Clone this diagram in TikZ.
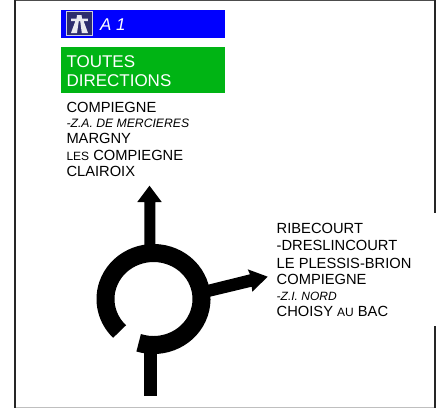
\documentclass[tikz,border=0pt]{standalone}
\usepackage{fontspec}
\setmainfont{Liberation Sans}
\definecolor{signblue}{RGB}{0,0,255}
\definecolor{signgreen}{RGB}{0,180,20}
\definecolor{iconnavy}{RGB}{45,45,110}
\definecolor{iconedge}{RGB}{205,205,225}
\tikzset{
  lab/.style={anchor=base west,inner sep=0pt,outer sep=0pt,text=black,font=\fontsize{14.7}{14.7}\selectfont},
  sub/.style={lab,font=\fontsize{12.2}{12.2}\selectfont\itshape},
  panel/.style={draw=none,inner sep=0pt,outer sep=0pt,anchor=north west},
  frameline/.style={line width=2pt,black!85},
  shape fill/.style={fill=black,draw=none}
}
\newcommand{\smallcaps}[1]{{\fontsize{12}{12}\selectfont #1}}
\begin{document}
\begin{tikzpicture}[x=1pt,y=-1pt]
\useasboundingbox (0,0) rectangle (443,408);
\fill[white] (0,0) rectangle (443,408);
% frame
\draw[black!25,line width=1.2pt] (15,407.3) -- (435,407.3);
\draw[black!70,line width=1.5pt] (14,0.5) -- (435,0.5);
\draw[frameline] (14.5,0) -- (14.5,408);
\draw[frameline] (435,0) -- (435,213);
\draw[frameline] (435,326) -- (435,408);
% panels
\node[panel,fill=signblue,minimum width=164pt,minimum height=28pt] (blue) at (61,10) {};
\node[panel,fill=signgreen,minimum width=164pt,minimum height=45.7pt] (green) at (61,47) {};
% motorway icon
\fill[iconnavy,draw=iconedge,line width=1pt] (66.7,11.5) rectangle (92.2,35.5);
\fill[white!90!iconnavy] (77,15) -- (81.5,15) -- (82,18.5) -- (87.8,18.5) -- (87.8,21) -- (83.6,21) -- (88,33) -- (81.8,33) -- (80.2,21) -- (78.8,21) -- (77,33) -- (71,33) -- (75.4,21) -- (71,21) -- (71,18.5) -- (76.6,18.5) -- cycle;
% panel text
\node[lab,text=white,font=\fontsize{17}{17}\selectfont\itshape] (aone) at (100,30.7) {A 1};
\node[lab,text=white,font=\fontsize{17}{17}\selectfont] (toutes) at (66.5,67.7) {TOUTES};
\node[lab,text=white,font=\fontsize{17}{17}\selectfont] (directions) at (66.5,86.3) {DIRECTIONS};
% left list
\node[lab] (l1) at (66.5,112) {COMPIEGNE};
\node[sub] (l2) at (66.5,127) {-Z.A. DE MERCIERES};
\node[lab] (l3) at (66.5,143) {MARGNY};
\node[lab] (l4) at (66.5,160) {\smallcaps{LES} COMPIEGNE};
\node[lab] (l5) at (66.5,176.7) {CLAIROIX};
% right list
\node[lab] (r1) at (276.7,233.3) {RIBECOURT};
\node[lab] (r2) at (276.7,250.7) {-DRESLINCOURT};
\node[lab] (r3) at (276.7,268) {LE PLESSIS-BRION};
\node[lab] (r4) at (276.7,284.7) {COMPIEGNE};
\node[sub,font=\fontsize{12}{12}\selectfont\itshape] (r5) at (276.7,300) {-Z.I. NORD};
\node[lab] (r6) at (276.7,316) {CHOISY \smallcaps{AU} BAC};
% roundabout
\draw[black,line width=18pt,line cap=butt] (153.5,299) ++(108:48 and 46) arc[start angle=108,end angle=-225,x radius=48,y radius=46];
% top arrow
\fill[shape fill] (144.3,248) -- (144.3,202) -- (137.3,202) -- (149.5,185.7) -- (161.7,202) -- (155.3,202) -- (155.3,248) -- cycle;
% right arrow
\fill[shape fill] (206.7,285) -- (250,274.3) -- (247.7,269.3) -- (267.7,276.7) -- (252.3,291.7) -- (251.7,286.7) -- (210,296.7) -- cycle;
% bottom stem
\fill[shape fill] (144.3,350) -- (157,350) -- (157,396) -- (144.3,396) -- cycle;
\end{tikzpicture}
\end{document}
